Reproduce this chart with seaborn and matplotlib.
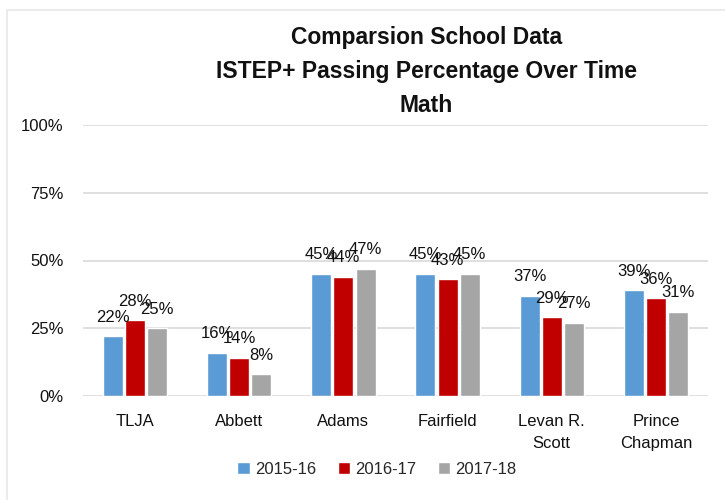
import pandas as pd
import matplotlib
matplotlib.use("Agg")
import matplotlib.pyplot as plt
from matplotlib.patches import Rectangle
from matplotlib.ticker import PercentFormatter
import seaborn as sns

schools = ["TLJA", "Abbett", "Adams", "Fairfield", "Levan R.\nScott", "Prince\nChapman"]
years = ["2015-16", "2016-17", "2017-18"]
pass_2015 = [22, 16, 45, 45, 37, 39]
pass_2016 = [28, 14, 44, 43, 29, 36]
pass_2017 = [25, 8, 47, 45, 27, 31]
colors = ["#5B9BD5", "#C00000", "#A5A5A5"]

rows = []
for year, vals in zip(years, [pass_2015, pass_2016, pass_2017]):
    for school, v in zip(schools, vals):
        rows.append({"school": school, "year": year, "pct": v / 100})
df = pd.DataFrame(rows)

sns.set_style("white")
plt.rcParams["font.family"] = ["Liberation Sans", "DejaVu Sans"]

fig = plt.figure(figsize=(7.25, 5), dpi=100)
ax = fig.add_axes([0.1145, 0.208, 0.862, 0.542])

sns.barplot(data=df, x="school", y="pct", hue="year", palette=colors,
            width=0.64, gap=0.1, order=schools, hue_order=years,
            saturation=1, ax=ax, legend=True)

# data labels above each bar
for container in ax.containers:
    for bar in container:
        h = bar.get_height()
        ax.annotate(f"{h * 100:.0f}%", (bar.get_x() + bar.get_width() / 2, h),
                    xytext=(0, 10.5), textcoords="offset points",
                    ha="center", va="baseline", fontsize=12, color="#111111")

ax.set_ylim(0, 1)
ax.set_yticks([0, 0.25, 0.5, 0.75, 1.0])
ax.yaxis.set_major_formatter(PercentFormatter(1.0, decimals=0))
ax.set_xlim(-0.5, len(schools) - 0.5)
ax.yaxis.grid(True, color="#D9D9D9", linewidth=1.2)
ax.set_axisbelow(True)
for s in ax.spines.values():
    s.set_visible(False)
ax.tick_params(axis="both", length=0, labelsize=12, colors="#111111")
ax.tick_params(axis="x", pad=13)
ax.tick_params(axis="y", pad=14)
for lbl in ax.get_xticklabels():
    lbl.set_linespacing(1.55)
ax.set_xlabel("")
ax.set_ylabel("")

ax.legend_.remove()
handles, labels = ax.get_legend_handles_labels()
fig.legend(handles, labels, loc="center", bbox_to_anchor=(0.52, 0.062), ncol=3,
           frameon=False, fontsize=12, handlelength=0.75, handleheight=0.75,
           handletextpad=0.3, columnspacing=1.3)

fig.text(0.588, 0.857, "Comparsion School Data\nISTEP+ Passing Percentage Over Time\nMath",
         ha="center", va="center", fontsize=16.5, fontweight="bold",
         linespacing=1.62, color="#111111")

fig.patches.append(Rectangle((0.0097, -0.05), 1.2, 1.03, transform=fig.transFigure,
                             fill=False, edgecolor="#EBEBEB", linewidth=1.5))

fig.savefig("out.png", dpi=100)
